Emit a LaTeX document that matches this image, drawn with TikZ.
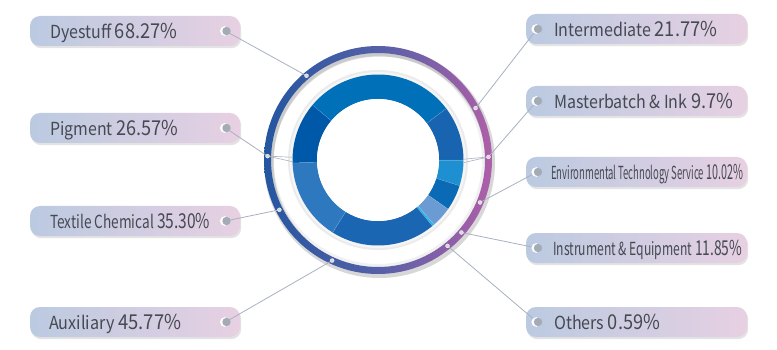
\documentclass[tikz,border=0pt]{standalone}
\usepackage{fontspec}
\setmainfont{Noto Sans CJK SC}
\usepackage{graphicx}
\usetikzlibrary{calc,shadows}
\definecolor{boxL}{HTML}{BBCAE1}
\definecolor{boxR}{HTML}{E7D0E2}
\definecolor{ringL}{HTML}{2456A0}
\definecolor{ringM}{HTML}{5560A8}
\definecolor{ringR}{HTML}{AE5FA8}
\definecolor{segA}{HTML}{0070B8}
\definecolor{segB}{HTML}{1864B0}
\definecolor{segC}{HTML}{1E8FD0}
\definecolor{segD}{HTML}{0A6AB6}
\definecolor{segE}{HTML}{6A9BD2}
\definecolor{segF}{HTML}{28B4EC}
\definecolor{segG}{HTML}{1A66B2}
\definecolor{segH}{HTML}{2E78C0}
\definecolor{segI}{HTML}{0058A8}
\definecolor{txt}{HTML}{464952}
\definecolor{conn}{HTML}{A9B1C0}
\definecolor{markgray}{HTML}{A3ABB5}
\newcommand\lab[3]{\resizebox{#3pt}{\height}{\fontsize{18}{20}\selectfont #1 \fontsize{20.5}{22}\selectfont #2}}
\tikzset{
  labelbox/.style={rounded corners=10pt, left color=boxL, right color=boxR, draw=none,
    minimum height=30pt, inner sep=0pt,
    drop shadow={opacity=.18, shadow xshift=1.2pt, shadow yshift=-2.2pt, fill=black!60}},
  leftbox/.style={labelbox, minimum width=210pt},
  rightbox/.style={labelbox, minimum width=221pt},
  lbltext/.style={anchor=base west, inner sep=0pt, text=txt},
  connector/.style={draw=conn, line width=0.8pt},
  ringdot/.style={fill=black!15, draw=white, line width=0.3pt},
}
\newcommand\marker[1]{%
  \fill[white] ($(#1)+(-0.8,0)$) circle (4.8);
  \fill[markgray] ($(#1)+(1.0,0)$) circle (4.2);}
\begin{document}
\begin{tikzpicture}[x=1pt,y=-1pt]
\useasboundingbox (0,0) rectangle (777,350);
\fill[white] (0,0) rectangle (777,350);
\coordinate (c) at (378,160);

% label boxes
\node[leftbox] (bDye) at (135,31) {};
\node[leftbox] (bPig) at (135,128) {};
\node[leftbox] (bTex) at (135,221) {};
\node[leftbox] (bAux) at (135,322) {};
\node[rightbox] (bInt) at (636.5,29) {};
\node[rightbox] (bMas) at (636.5,101) {};
\node[rightbox] (bEnv) at (636.5,172) {};
\node[rightbox] (bIns) at (636.5,248) {};
\node[rightbox] (bOth) at (636.5,322) {};

% texts
\node[lbltext] (tDye) at (50,38.5) {\lab{Dyestuff}{68.27\%}{127}};
\node[lbltext] (tPig) at (50,135.5) {\lab{Pigment}{26.57\%}{128}};
\node[lbltext] (tTex) at (50,228.5) {\lab{Textile Chemical}{35.30\%}{160}};
\node[lbltext] (tAux) at (49,329.5) {\lab{Auxiliary}{45.77\%}{132}};
\node[lbltext] (tInt) at (554,36.5) {\lab{Intermediate}{21.77\%}{163}};
\node[lbltext] (tMas) at (554,108.5) {\lab{Masterbatch \& Ink}{9.7\%}{179}};
\node[lbltext] (tEnv) at (551,179.5) {\lab{Environmental Technology Service}{10.02\%}{192}};
\node[lbltext] (tIns) at (553,255.5) {\lab{Instrument \& Equipment}{11.85\%}{189}};
\node[lbltext] (tOth) at (554,329.5) {\lab{Others}{0.59\%}{106}};

% marker coordinates
\coordinate (mDye) at (225.5,31);
\coordinate (mPig) at (225.5,128);
\coordinate (mTex) at (225.5,221);
\coordinate (mAux) at (225.5,322);
\coordinate (mInt) at (537,29);
\coordinate (mMas) at (537,101);
\coordinate (mEnv) at (537,172);
\coordinate (mIns) at (537,248);
\coordinate (mOth) at (537,322);

% outer ring with shadow
\fill[black!70, opacity=.22, even odd rule] ($(c)+(1.5,2.5)$) circle (115.5) circle (106);
\path[even odd rule, left color=ringL, right color=ringR, middle color=ringM] (c) circle (114) circle (107);
\fill[black, opacity=.06, even odd rule] (c) circle (107) circle (104);

\begin{scope}[shift={(c)}, yscale=-1]
  % halo around donut
  \fill[black!8] (0,0) circle (90);
  \fill[black!4] (0,0) circle (88);
  \foreach \a/\b/\col in {37/140/segA, 0/37/segB, -17.5/0/segC, -35/-17.5/segD, -49/-35/segE, -50.5/-49/segF, -122/-50.5/segG, -178/-122/segH, 140/182/segI}
    \fill[\col] (\a:85.5) arc[start angle=\a, end angle=\b, radius=85.5] -- (\b:61) arc[start angle=\b, end angle=\a, radius=61] -- cycle;
  \foreach \a in {140,37,0,-17.5,-35,-49,-50.5,-122,182}
    \draw[white, opacity=.22, line width=0.5pt] (\a:61) -- (\a:85.5);
  \fill[white] (0,0) circle (61);
  % ring dots
  \coordinate (dDye) at (130.3:110.5);
  \coordinate (dPig) at (178:110.5);
  \coordinate (dTex) at (206.8:110.5);
  \coordinate (dAux) at (245.5:110.5);
  \coordinate (dInt) at (28:110.5);
  \coordinate (dMas) at (1.6:110.5);
  \coordinate (dEnv) at (-22.6:110.5);
  \coordinate (dIns) at (-41:110.5);
  \coordinate (dOth) at (-51:110.5);
\end{scope}
\coordinate (pIn1) at (293,157.3);
\coordinate (pIn2) at (293,161.8);
\coordinate (mIn1) at (463,159.3);
\coordinate (mIn2) at (463,162.8);

% connectors
\draw[connector] (mDye) -- (dDye);
\draw[connector] (mPig) -- (dPig);
\draw[connector] (mTex) -- (dTex);
\draw[connector] (mAux) -- (dAux);
\draw[connector] (mInt) -- (dInt);
\draw[connector] (mMas) -- (dMas);
\draw[connector] (mEnv) -- (dEnv);
\draw[connector] (mIns) -- (dIns);
\draw[connector] (mOth) -- (dOth);
\draw[connector, line width=0.6pt] (dPig) -- (pIn1);
\draw[connector, line width=0.6pt] (dPig) -- (pIn2);
\draw[connector, line width=0.6pt] (dMas) -- (mIn1);
\draw[connector, line width=0.6pt] (dMas) -- (mIn2);

% dots and markers
\foreach \d in {dDye,dPig,dTex,dAux,dInt,dMas,dEnv,dIns,dOth}
  \path[ringdot] (\d) circle (2);
\foreach \m in {mDye,mPig,mTex,mAux,mInt,mMas,mEnv,mIns,mOth}
  {\marker{\m}}
\end{tikzpicture}
\end{document}
